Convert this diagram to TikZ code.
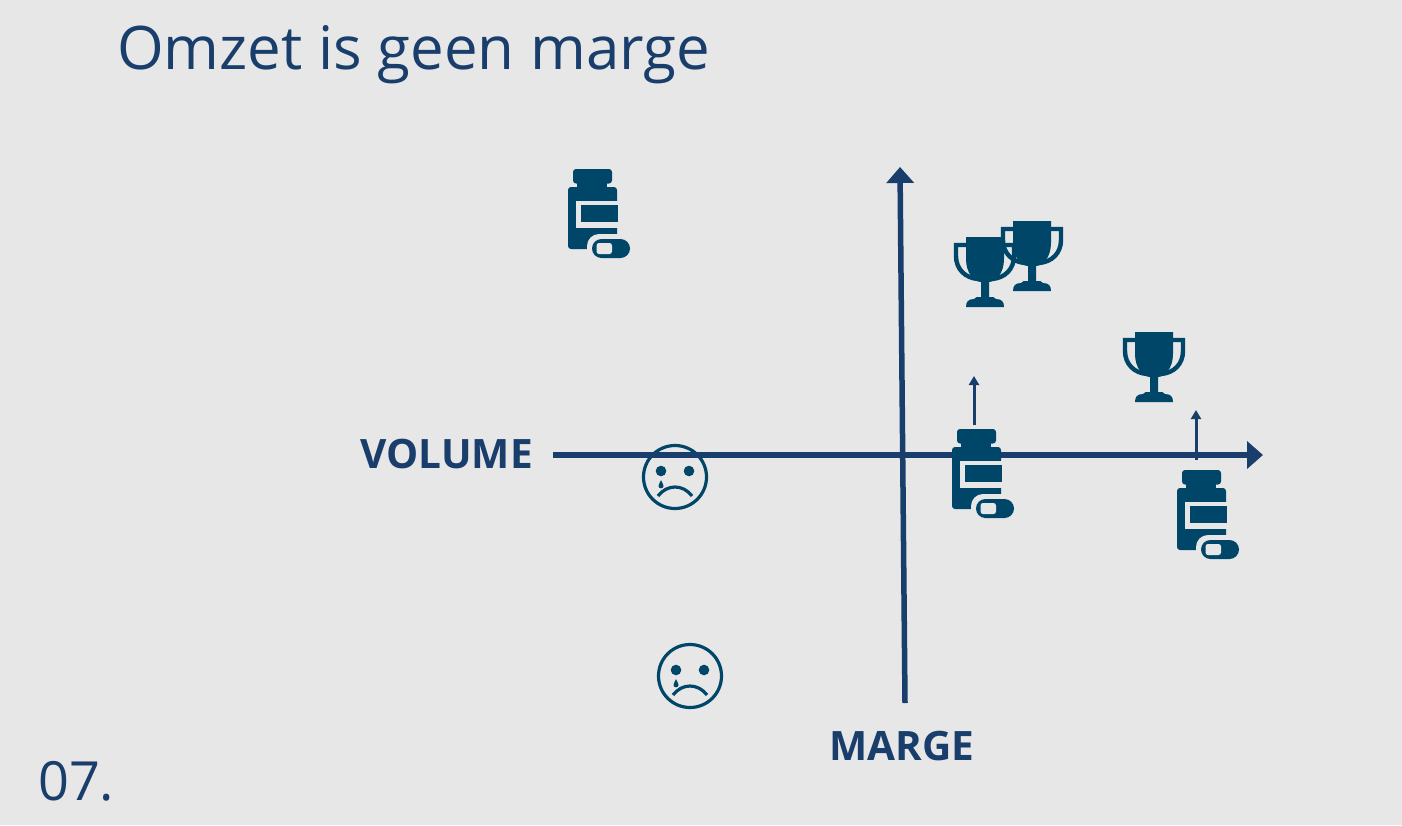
\documentclass[tikz,border=0pt]{standalone}
\usepackage{fontspec}
\setmainfont{Open Sans}
\usetikzlibrary{arrows.meta}
\definecolor{axisblue}{HTML}{1A3E6C}
\definecolor{iconblue}{HTML}{004668}
\definecolor{slidegray}{HTML}{E7E7E7}
\tikzset{
  bigarrow/.style={axisblue, line width=5.5pt, -{Triangle[length=16pt,width=27pt]}},
  smallarrow/.style={axisblue, line width=3pt, -{Triangle[length=9pt,width=10pt]}},
  heading/.style={text=axisblue, font=\fontsize{60}{60}\selectfont, inner sep=0pt},
  axislabel/.style={text=axisblue, font=\fontsize{40.5}{40.5}\selectfont\bfseries, inner sep=0pt},
  bottle/.pic={
    \fill[iconblue, rounded corners=3pt] (5,0) rectangle (44,14.5);
    \fill[iconblue] (9,14) rectangle (39,19);
    \fill[iconblue, rounded corners=3pt] (0,18) rectangle (49,80);
    \fill[slidegray] (8,32) rectangle (49.5,59);
    \fill[iconblue] (13,36) rectangle (49.5,53);
    \fill[slidegray, rounded corners=12pt] (19,65) rectangle (66,93);
    \fill[iconblue, rounded corners=9.5pt] (24,70) rectangle (62,89);
    \fill[slidegray, rounded corners=2.5pt] (28.5,74) -- (44,74) -- (44,85) -- (28.5,85) -- cycle;
  },
  cup/.pic={
    \draw[iconblue, line width=4.4pt] (13,8) -- (2,8) -- (2,19) .. controls (2,32) and (11,41) .. (24,42);
    \draw[iconblue, line width=4.4pt] (49,8) -- (60,8) -- (60,19) .. controls (60,32) and (51,41) .. (38,42);
    \fill[iconblue] (12,0) -- (50,0) -- (50,22) .. controls (50,36) and (42,45) .. (35,45)
      -- (35,60) .. controls (39,60) and (41,60) .. (42,62) .. controls (48,62) and (50,65) .. (50,70)
      -- (12,70) .. controls (12,65) and (14,62) .. (20,62) .. controls (21,60) and (23,60) .. (27,60)
      -- (27,45) .. controls (20,45) and (12,36) .. (12,22) -- cycle;
  },
  sadface/.pic={
    \draw[iconblue, line width=3.2pt] (0,0) circle (31.5);
    \fill[iconblue] (-14,-6) circle (5.3) (14,-6) circle (5.3);
    \fill[iconblue] (-14,3) .. controls (-13,6) and (-11.5,7) .. (-11.5,9) .. controls (-11.5,12) and (-16.5,12) .. (-16.5,9) .. controls (-16.5,7) and (-15,6) .. (-14,3) -- cycle;
    \draw[iconblue, line width=3.2pt] (-17,19) .. controls (-8,7) and (8,7) .. (17,19);
  }
}
\begin{document}
\begin{tikzpicture}[x=1pt,y=-1pt]
\fill[slidegray] (0,0) rectangle (1402,825);
\useasboundingbox (0,0) rectangle (1402,825);

\coordinate (Vstart) at (553,455);
\coordinate (Vend) at (1263,455);
\coordinate (Mstart) at (905,703);
\coordinate (Mend) at (900,167);
\coordinate (Astart) at (974,425);
\coordinate (Aend) at (974,376);
\coordinate (Bstart) at (1196,460);
\coordinate (Bend) at (1196,410);

\node[heading, anchor=west] (title) at (117,55) {Omzet is geen marge};
\node[heading, anchor=west, font=\fontsize{54}{54}\selectfont] (pagenr) at (38,781) {07.};
\node[axislabel, anchor=east] (volume) at (533,454) {VOLUME};
\node[axislabel] (marge) at (902,746) {MARGE};

\pic at (675,477) {sadface};
\draw[bigarrow] (Vstart) -- (Vend);
\draw[bigarrow] (Mstart) -- (Mend);
\draw[smallarrow] (Astart) -- (Aend);
\draw[smallarrow] (Bstart) -- (Bend);

\pic at (568,169) {bottle};
\pic at (952,429) {bottle};
\pic at (1177,470) {bottle};
\pic at (1001,221) {cup};
\pic at (954,237) {cup};
\pic at (1123,332) {cup};
\pic at (690,676) {sadface};
\end{tikzpicture}
\end{document}
